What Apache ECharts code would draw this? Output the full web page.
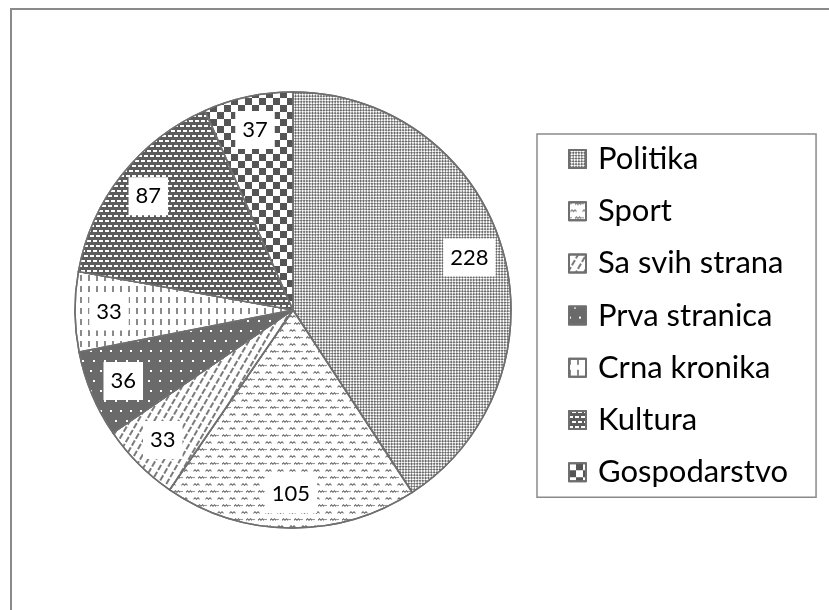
<!DOCTYPE html>
<html>
<head>
<meta charset="utf-8">
<script src="https://cdn.jsdelivr.net/npm/echarts@6/dist/echarts.min.js"></script>
<style>
	html, body { margin: 0; padding: 0; background: #fff; overflow: hidden; }
	#frame { position: absolute; left: 10px; top: 8px; width: 900px; height: 700px; border: 2px solid #8a8a8a; }
	#chart { position: absolute; left: 0; top: 0; width: 829px; height: 610px; }
</style>
</head>
<body>
<div id="frame"></div>
<div id="chart"></div>
<script>
var categories = ['Politika', 'Sport', 'Sa svih strana', 'Prva stranica', 'Crna kronika', 'Kultura', 'Gospodarstvo'];
var values = [228, 105, 33, 36, 33, 87, 37];

// fill + pattern for every slice, same order as categories
var patterns = [
	{ base: '#fff', decal: { color: '#6a6a6a', symbol: 'rect', dashArrayX: [[2, 2], [0, 2, 2, 0]], dashArrayY: [2, 0], rotation: Math.PI / 4 } },
	{ base: '#fff', decal: { color: '#666', symbol: 'path://M0,3 L2,1 L4,3 L6,1 L8,3 L8,5 L6,3 L4,5 L2,3 L0,5 Z', symbolSize: 1, dashArrayX: [[9, 3], [3, 3, 6, 0]], dashArrayY: [3, 4] } },
	{ base: '#fff', decal: { color: '#7a7a7a', symbol: 'rect', dashArrayX: [[6, 1.5]], dashArrayY: [1.5, 5], rotation: -Math.PI / 3 } },
	{ base: '#6a6a6a', decal: { color: '#fff', symbol: 'rect', dashArrayX: [[1.5, 8], [0, 4.75, 1.5, 3.25]], dashArrayY: [1.5, 7.5] } },
	{ base: '#fff', decal: { color: '#8a8a8a', symbol: 'rect', dashArrayX: [2, 6], dashArrayY: [6, 5] } },
	{ base: '#5c5c5c', decal: { color: '#fff', symbol: 'rect', dashArrayX: [[4, 2], [1, 2, 3, 0]], dashArrayY: [1.5, 3] } },
	{ base: '#fff', decal: { color: '#555', symbol: 'rect', dashArrayX: [[7, 7], [0, 7, 7, 0]], dashArrayY: [7, 0] } }
];

var pieCenter = [293, 310];

var myChart = echarts.init(document.getElementById('chart'));

var sliceData = categories.map(function(name, i) {
	return {
		name: name,
		value: values[i],
		itemStyle: { color: patterns[i].base, decal: patterns[i].decal }
	};
});
var labelData = categories.map(function(name, i) {
	return { name: name, value: values[i] };
});

option = {
	animation: false,
	legend: {
		orient: 'vertical',
		left: 537,
		top: 134,
		icon: 'rect',
		itemWidth: 17,
		itemHeight: 18,
		itemGap: 16.2,
		padding: [7, 28, 7, 31],
		borderColor: '#8a8a8a',
		borderWidth: 1.5,
		selectedMode: false,
		textStyle: {
			fontFamily: 'Lato',
			fontSize: 31,
			lineHeight: 36,
			color: '#000',
			padding: [0, 0, 0, 7]
		},
		data: categories
	},
	series: [{
		name: 'slices',
		type: 'pie',
		center: pieCenter,
		radius: 218,
		startAngle: 90,
		clockwise: true,
		silent: true,
		label: { show: false },
		labelLine: { show: false },
		itemStyle: { borderColor: '#6f6f6f', borderWidth: 1.5 },
		data: sliceData
	}, {
		// transparent ring, only used to place the value labels
		name: 'labels',
		type: 'pie',
		center: pieCenter,
		radius: [164, 198],
		startAngle: 90,
		clockwise: true,
		silent: true,
		legendHoverLink: false,
		itemStyle: { color: 'transparent', borderWidth: 0 },
		label: {
			show: true,
			position: 'inside',
			formatter: '{c}',
			fontFamily: 'Lato',
			fontSize: 22,
			lineHeight: 24,
			color: '#000',
			backgroundColor: '#fff',
			padding: [7, 7]
		},
		labelLine: { show: false },
		data: labelData
	}]
};

myChart.setOption(option);
</script>
</body>
</html>
